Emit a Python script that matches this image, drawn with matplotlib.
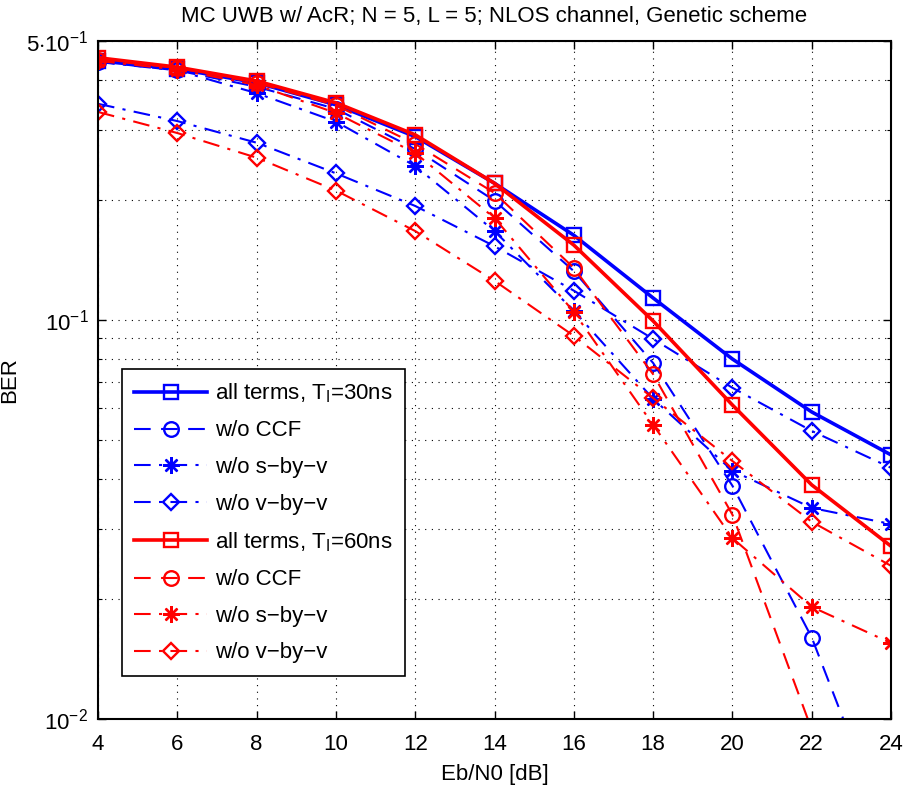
import matplotlib
matplotlib.use("Agg")
import matplotlib.pyplot as plt
from matplotlib.ticker import FixedLocator, FixedFormatter, NullFormatter

plt.rcParams['font.family'] = ['Liberation Sans', 'DejaVu Sans']
plt.rcParams['mathtext.fontset'] = 'custom'
plt.rcParams['mathtext.rm'] = 'Liberation Sans'
plt.rcParams['mathtext.it'] = 'Liberation Sans:italic'

snr = [4, 6, 8, 10, 12, 14, 16, 18, 20, 22, 24]

# T_I = 30 ns (blue)
b_all = [0.446, 0.426, 0.393, 0.346, 0.288, 0.220, 0.163, 0.1135, 0.0798, 0.0588, 0.0459]
b_ccf = [0.444, 0.422, 0.384, 0.338, 0.268, 0.199, 0.1325, 0.078, 0.0384, 0.0160, 0.0049]
b_sbv = [0.443, 0.422, 0.370, 0.314, 0.243, 0.167, 0.1054, 0.0634, 0.0419, 0.0338, 0.0308]
b_vbv = [0.348, 0.315, 0.278, 0.233, 0.193, 0.153, 0.1184, 0.0896, 0.0676, 0.0527, 0.0426]

# T_I = 60 ns (red)
r_all = [0.454, 0.430, 0.397, 0.350, 0.291, 0.220, 0.154, 0.0994, 0.0612, 0.0386, 0.0271]
r_ccf = [0.449, 0.428, 0.393, 0.345, 0.276, 0.208, 0.135, 0.0731, 0.0325, 0.0094, 0.0025]
r_sbv = [0.446, 0.424, 0.388, 0.330, 0.262, 0.180, 0.1047, 0.0546, 0.0284, 0.0191, 0.0155]
r_vbv = [0.332, 0.294, 0.255, 0.211, 0.167, 0.1253, 0.0912, 0.0637, 0.0443, 0.0312, 0.0242]

labels = ['all terms, T$_\\mathrm{I}$=30ns', 'w/o CCF', 'w/o s\u2212by\u2212v', 'w/o v\u2212by\u2212v',
          'all terms, T$_\\mathrm{I}$=60ns', 'w/o CCF', 'w/o s\u2212by\u2212v', 'w/o v\u2212by\u2212v']

FS = 16
fig = plt.figure(figsize=(9.06, 7.87), dpi=100)
ax = fig.add_axes([0.1082, 0.0864, 0.8753, 0.8615])

dashdot = (0, (8, 4, 1.5, 4))
dashed = (0, (8, 5))
series = [
    (b_all, 'b', '-', 's', 2.6),
    (b_ccf, 'b', dashed, 'o', 1.5),
    (b_sbv, 'b', dashdot, (8, 2, 0), 1.5),
    (b_vbv, 'b', dashdot, 'D', 1.5),
    (r_all, 'r', '-', 's', 2.6),
    (r_ccf, 'r', dashed, 'o', 1.5),
    (r_sbv, 'r', dashdot, (8, 2, 0), 1.5),
    (r_vbv, 'r', dashdot, 'D', 1.5),
]
sizes = {'s': 9.5, 'o': 10.5, 'D': 8.5}
colors = {'b': '#0000ff', 'r': '#ff0000'}
for (vals, c, ls, mk, lw), lab in zip(series, labels):
    ms = sizes.get(mk, 12) if isinstance(mk, str) else 12
    ax.plot(snr, vals, color=colors[c], linestyle=ls, linewidth=lw, marker=mk,
            markersize=ms, markerfacecolor='none', markeredgecolor=colors[c],
            markeredgewidth=1.7, label=lab)

ax.set_yscale('log')
ax.set_xlim(4, 24)
ax.set_ylim(0.01, 0.5)
ax.xaxis.set_major_locator(FixedLocator(snr))
ax.yaxis.set_major_locator(FixedLocator([0.01, 0.1, 0.5]))
ax.yaxis.set_major_formatter(FixedFormatter(['$10^{-2}$', '$10^{-1}$', '$5{\\cdot}10^{-1}$']))
minors = [k * 0.01 for k in range(2, 10)] + [k * 0.1 for k in range(2, 5)]
ax.yaxis.set_minor_locator(FixedLocator(minors))
ax.yaxis.set_minor_formatter(NullFormatter())

ax.grid(True, which='both', axis='y', linestyle=(0, (1, 5)), color='black', linewidth=0.8)
ax.grid(True, which='major', axis='x', linestyle=(0, (1, 5)), color='black', linewidth=0.8)
ax.tick_params(which='both', direction='in', top=True, right=True, labelsize=FS)
ax.tick_params(which='major', length=6, width=1)
ax.tick_params(axis='x', which='major', pad=11)
ax.tick_params(axis='y', which='major', pad=7)
ax.tick_params(which='minor', length=3, width=0.8)
for s in ax.spines.values():
    s.set_linewidth(1.5)

ax.set_xlabel('Eb/N0 [dB]', fontsize=FS, labelpad=6)
ax.set_ylabel('BER', fontsize=FS)
ax.yaxis.set_label_coords(-0.098, 0.5)
ax.set_title('MC UWB w/ AcR; N = 5, L = 5; NLOS channel, Genetic scheme', fontsize=FS, pad=14)

leg = ax.legend(loc='lower left', bbox_to_anchor=(0.03, 0.064), fontsize=FS, frameon=True,
                fancybox=False, edgecolor='black', framealpha=1, handlelength=3.3,
                labelspacing=0.70, borderpad=0.55, handletextpad=0.35, borderaxespad=0)
leg.get_frame().set_linewidth(1.2)

fig.savefig('out.png', dpi=100)
